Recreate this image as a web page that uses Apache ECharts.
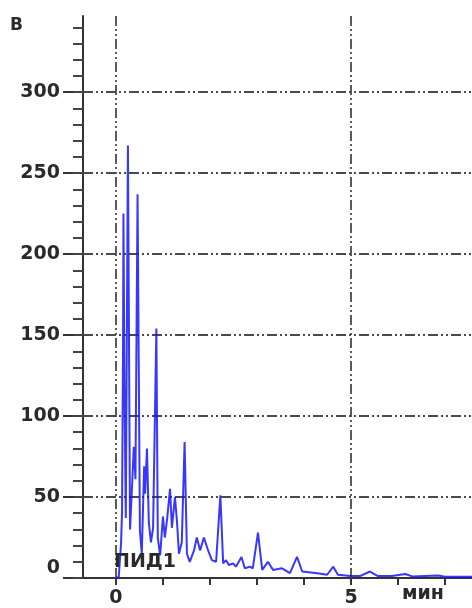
<!DOCTYPE html>
<html>
<head>
<meta charset="utf-8">
<script src="https://cdn.jsdelivr.net/npm/echarts@6/dist/echarts.min.js"></script>
<style>html,body{margin:0;padding:0;background:#fff}#c{width:472px;height:608px}</style>
</head>
<body>
<div id="c"></div>
<script>
// Time in minutes and detector signal (В)
const timeMin = [0, 0.06, 0.11, 0.13, 0.15, 0.16, 0.18, 0.21, 0.255, 0.30, 0.34, 0.38, 0.415, 0.46, 0.51, 0.55, 0.60, 0.62, 0.66, 0.70, 0.745, 0.79, 0.86, 0.89, 0.94, 1.00, 1.04, 1.09, 1.15, 1.19, 1.255, 1.30, 1.34, 1.40, 1.46, 1.51, 1.57, 1.66, 1.72, 1.79, 1.87, 1.96, 2.04, 2.13, 2.22, 2.28, 2.34, 2.40, 2.49, 2.55, 2.67, 2.74, 2.85, 2.91, 3.02, 3.11, 3.23, 3.34, 3.53, 3.70, 3.85, 3.96, 4.28, 4.49, 4.62, 4.72, 4.98, 5.19, 5.40, 5.57, 5.87, 6.15, 6.30, 6.85, 7.0, 7.57];
const signal = [0, 0.6, 22, 41, 135, 225, 123, 37, 267, 30, 55, 81, 61, 237, 29, 15, 69, 52, 80, 34, 22, 31, 154, 25, 14, 38, 25, 37, 55, 31, 50, 34, 15, 22, 84, 15, 10, 17, 25, 17, 25, 17, 11, 10, 51, 9, 11, 8, 9, 7, 13, 6, 7, 6, 28, 5, 10, 5, 6, 3, 13, 4, 3, 2, 7, 2, 1.2, 1.2, 4, 1.2, 1.2, 2.5, 1, 1.5, 0.8, 0.8];

const xLabelValues = [0, 5];
const xTickValues = [0, 1, 2, 3, 4, 5, 6, 7];
const yLabelValues = [0, 50, 100, 150, 200, 250, 300];
const yMinorValues = [0, 10, 20, 30, 40, 50, 60, 70, 80, 90, 100, 110, 120, 130, 140, 150, 160, 170, 180, 190, 200, 210, 220, 230, 240, 250, 260, 270, 280, 290, 300, 310, 320, 330, 340];
const gridX = [0, 5];
const gridY = [50, 100, 150, 200, 250, 300];

const textColor = '#2a2a2a';
const font = 'DejaVu Sans';
const axisColor = '#333';

const chart = echarts.init(document.getElementById('c'), null, {renderer: 'canvas'});
const markData = gridX.map(v => ({xAxis: v})).concat(gridY.map(v => ({yAxis: v})));

chart.setOption({
  animation: false,
  backgroundColor: '#fff',
  grid: {left: 83, right: 0, top: 16, bottom: 28, containLabel: false},
  xAxis: [{
    type: 'value', min: -0.7, max: 7.57,
    axisLine: {show: true, onZero: false, lineStyle: {color: axisColor, width: 2}},
    axisTick: {show: true, customValues: xTickValues, length: 7, lineStyle: {color: axisColor, width: 2}},
    axisLabel: {customValues: xLabelValues, margin: 11, fontSize: 19, fontWeight: 'bold', fontFamily: font, color: textColor},
    splitLine: {show: false}
  }],
  yAxis: [{
    type: 'value', min: 0, max: 347, position: 'left',
    axisLine: {show: true, onZero: false, lineStyle: {color: axisColor, width: 2}},
    axisTick: {show: true, customValues: yLabelValues, length: 20, lineStyle: {color: axisColor, width: 2}},
    axisLabel: {customValues: yLabelValues, margin: 23, fontSize: 19, fontWeight: 'bold', fontFamily: font, color: textColor, verticalAlignMinLabel: 'bottom'},
    splitLine: {show: false}
  }, {
    type: 'value', min: 0, max: 347, position: 'left', offset: 0,
    axisLine: {show: false, onZero: false},
    axisTick: {show: true, customValues: yMinorValues, length: 10, lineStyle: {color: '#444', width: 2}},
    axisLabel: {show: false},
    splitLine: {show: false}
  }],
  series: [{
    type: 'line', z: 1, data: [], silent: true,
    markLine: {
      silent: true, symbol: ['none', 'none'], label: {show: false}, animation: false,
      lineStyle: {color: '#4a4a4a', width: 1.8, type: [10, 3, 2, 3, 2, 3]},
      data: markData
    }
  }, {
    type: 'line', z: 5, showSymbol: false, symbol: 'none',
    data: timeMin.map((t, i) => [t, signal[i]]),
    lineStyle: {color: '#1414ff', width: 2, opacity: 0.85}
  }],
  graphic: [
    {type: 'text', left: 10, top: 17, z: 10, style: {text: 'В', fontSize: 17, fontWeight: 'bold', fontFamily: font, fill: textColor}},
    {type: 'text', left: 114, top: 553, z: 10, style: {text: 'ПИД1', fontSize: 19, fontWeight: 'bold', fontFamily: font, fill: textColor}},
    {type: 'text', left: 402, top: 585, z: 10, style: {text: 'мин', fontSize: 19, fontWeight: 'bold', fontFamily: font, fill: textColor}}
  ]
});
</script>
</body>
</html>
